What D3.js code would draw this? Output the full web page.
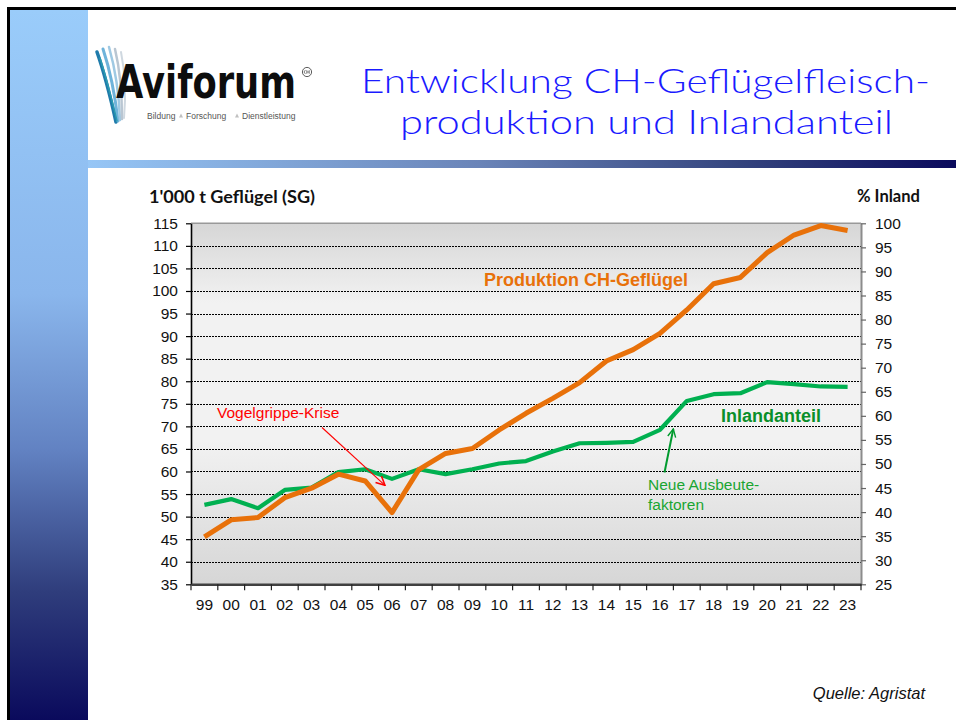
<!DOCTYPE html>
<html>
<head>
<meta charset="utf-8">
<script src="https://cdn.jsdelivr.net/npm/d3@7"></script>
<style>
  body { margin: 0; background: #fff; }
  svg { display: block; }
</style>
</head>
<body>
<div id="chart"></div>
<script>
//categories (years, two digits)
const years = ["99","00","01","02","03","04","05","06","07","08","09","10","11","12","13","14","15","16","17","18","19","20","21","22","23"];
//production, 1'000 t poultry (left axis)
const production = [45.5, 49.3, 49.8, 54.2, 56.3, 59.4, 57.9, 50.9, 60.4, 64.0, 65.1, 69.2, 72.9, 76.2, 79.7, 84.5, 87.0, 90.6, 95.8, 101.6, 103.0, 108.5, 112.4, 114.5, 113.4];
//domestic share in % (right axis)
const inland = [41.5, 42.7, 40.8, 44.6, 45.1, 48.3, 48.9, 46.9, 48.9, 47.9, 48.9, 50.1, 50.6, 52.6, 54.3, 54.4, 54.6, 57.1, 63.1, 64.5, 64.7, 67.0, 66.6, 66.1, 66.0];
//tick values
const leftTicks = d3.range(35, 116, 5);
const rightTicks = d3.range(25, 101, 5);

const width = 956;
const height = 720;
const plot = { left: 191, right: 861, top: 223.3, bottom: 584.3 };

const orange = "#E8710A";
const green = "#00B050";

const svg = d3.select("#chart").append("svg")
    .attr("width", width)
    .attr("height", height);

const defs = svg.append("defs");

//gradients
const side = defs.append("linearGradient").attr("id", "side")
    .attr("x1", 0).attr("y1", 0).attr("x2", 0).attr("y2", 1);
[["0", "#9accfa"], ["0.4", "#8ab6ec"], ["0.62", "#6282c2"], ["0.82", "#2f3d7c"], ["1", "#0a0a5c"]]
    .forEach(([o, c]) => side.append("stop").attr("offset", o).attr("stop-color", c));

const bar = defs.append("linearGradient").attr("id", "bar")
    .attr("x1", 0).attr("y1", 0).attr("x2", 1).attr("y2", 0);
[["0", "#96c6f6"], ["0.45", "#6a84b8"], ["0.75", "#34447e"], ["1", "#0a0a5c"]]
    .forEach(([o, c]) => bar.append("stop").attr("offset", o).attr("stop-color", c));

const plotBg = defs.append("linearGradient").attr("id", "plotbg")
    .attr("x1", 0).attr("y1", 0).attr("x2", 0).attr("y2", 1);
[["0", "#d6d6d6"], ["0.22", "#f2f2f2"], ["0.6", "#f2f2f2"], ["1", "#d6d6d6"]]
    .forEach(([o, c]) => plotBg.append("stop").attr("offset", o).attr("stop-color", c));

//arrow markers
function marker(id, color, size) {
    defs.append("marker")
        .attr("id", id)
        .attr("viewBox", "0 0 10 10")
        .attr("refX", 9).attr("refY", 5)
        .attr("markerWidth", size).attr("markerHeight", size)
        .attr("markerUnits", "userSpaceOnUse")
        .attr("orient", "auto")
        .append("path")
        .attr("d", "M1,1 L9,5 L1,9")
        .attr("fill", "none")
        .attr("stroke", color)
        .attr("stroke-width", 1.4);
}
marker("arrRed", "#ff0000", 11);
marker("arrGreen", "#009a2e", 10);

//slide frame
svg.append("rect").attr("x", 10).attr("y", 10).attr("width", 78).attr("height", height - 10).attr("fill", "url(#side)");
svg.append("rect").attr("x", 88).attr("y", 160).attr("width", width - 88).attr("height", 8).attr("fill", "url(#bar)");
svg.append("path")
    .attr("d", `M8.5,${height} V8.5 H${width}`)
    .attr("fill", "none")
    .attr("stroke", "#000")
    .attr("stroke-width", 3);

//logo
const logo = svg.append("g");
const feathers = [
    ["M97,52 C104,72 110,95 116,122", "#1f7bab", 3.5],
    ["M103,49 C110,70 115,95 118,121", "#6fb3da", 3],
    ["M109,47 C115,68 119,94 120,120", "#9fc9e3", 2.5],
    ["M115,49 C120,70 122,94 122,119", "#b9c6d2", 2.5],
    ["M121,52 C125,72 126,95 124,118", "#cfd8e0", 2],
    ["M100,58 C107,80 112,100 117,121", "#2a9ab0", 1.5]
];
feathers.forEach(([d, c, w]) => {
    logo.append("path").attr("d", d).attr("fill", "none").attr("stroke", c).attr("stroke-width", w).attr("stroke-linecap", "round");
});
logo.append("text")
    .attr("x", 116).attr("y", 98)
    .attr("textLength", 180).attr("lengthAdjust", "spacingAndGlyphs")
    .attr("font-family", "DejaVu Sans, sans-serif")
    .attr("font-weight", "bold")
    .attr("font-size", 47)
    .attr("fill", "#0d0d0d")
    .text("Aviforum");
//"CH" mark drawn as shapes
logo.append("circle").attr("cx", 307).attr("cy", 72).attr("r", 4.6).attr("fill", "none").attr("stroke", "#333").attr("stroke-width", 0.8);
logo.append("path")
    .attr("d", "M305.6,70.4 a1.4,1.6 0 1 0 0,3.2 M306.8,70.2 v3.6 M309.2,70.2 v3.6 M306.8,72 h2.4")
    .attr("fill", "none").attr("stroke", "#333").attr("stroke-width", 0.6);

//subtitle with small triangles between the words
const subFont = { family: "Liberation Sans, Arial, sans-serif", size: 8.5 };
[["Bildung", 147], ["Forschung", 186], ["Dienstleistung", 242]].forEach(([t, xx]) => {
    logo.append("text")
        .attr("x", xx).attr("y", 118.5)
        .attr("font-family", subFont.family)
        .attr("font-size", subFont.size)
        .attr("fill", "#555")
        .text(t);
});
[181, 237].forEach((xx) => {
    logo.append("path")
        .attr("d", `M${xx - 2},117.5 L${xx + 2},117.5 L${xx},113.5 Z`)
        .attr("fill", "#c0c0c0");
});

//title
const title = svg.append("g")
    .attr("font-family", "Lato, Open Sans, sans-serif")
    .attr("font-weight", 300)
    .attr("font-size", 33.5)
    .attr("fill", "#1a1aff");
title.append("text").attr("x", 361).attr("y", 93)
    .attr("textLength", 569).attr("lengthAdjust", "spacingAndGlyphs")
    .text("Entwicklung CH-Geflügelfleisch-");
title.append("text").attr("x", 400).attr("y", 134)
    .attr("textLength", 493).attr("lengthAdjust", "spacingAndGlyphs")
    .text("produktion und Inlandanteil");

//scales
const x = d3.scaleBand().domain(years).range([plot.left, plot.right]).padding(0);
const yL = d3.scaleLinear().domain([35, 115]).range([plot.bottom, plot.top]);
const yR = d3.scaleLinear().domain([25, 100]).range([plot.bottom, plot.top]);
const cx = (i) => x(years[i]) + x.bandwidth() / 2;

//plot background
svg.append("rect")
    .attr("x", plot.left).attr("y", plot.top)
    .attr("width", plot.right - plot.left).attr("height", plot.bottom - plot.top)
    .attr("fill", "url(#plotbg)");

//gridlines (dotted black)
svg.append("g")
    .attr("shape-rendering", "crispEdges")
    .selectAll("line")
    .data(leftTicks.filter((d) => d > 35 && d < 115))
    .join("line")
    .attr("x1", plot.left).attr("x2", plot.right)
    .attr("y1", (d) => Math.round(yL(d)) + 0.5).attr("y2", (d) => Math.round(yL(d)) + 0.5)
    .attr("stroke", "#000")
    .attr("stroke-width", 1)
    .attr("stroke-dasharray", "2,1");
svg.append("line")
    .attr("x1", plot.left).attr("x2", plot.right)
    .attr("y1", plot.top).attr("y2", plot.top)
    .attr("stroke", "#999").attr("stroke-width", 1.5);

//axes
const tickFont = "Liberation Sans, Arial, sans-serif";

const leftAxis = svg.append("g")
    .attr("transform", `translate(${plot.left},0)`)
    .call(d3.axisLeft(yL).tickValues(leftTicks).tickSize(5).tickSizeOuter(0).tickPadding(8));
leftAxis.select(".domain").attr("stroke", "#000").attr("stroke-width", 1.6);
leftAxis.selectAll(".tick line").attr("stroke", "#000").attr("stroke-width", 1.2);
leftAxis.selectAll("text").attr("font-family", tickFont).attr("font-size", 15.5).attr("fill", "#111");

const rightAxis = svg.append("g")
    .attr("transform", `translate(${plot.right},0)`)
    .call(d3.axisRight(yR).tickValues(rightTicks).tickSize(5).tickSizeOuter(0).tickPadding(9));
rightAxis.select(".domain").attr("stroke", "#8c8c8c").attr("stroke-width", 2);
rightAxis.selectAll(".tick line").attr("stroke", "#666").attr("stroke-width", 1.2);
rightAxis.selectAll("text").attr("font-family", tickFont).attr("font-size", 15.5).attr("fill", "#111");

const bottomAxis = svg.append("g")
    .attr("transform", `translate(0,${plot.bottom})`)
    .call(d3.axisBottom(x).tickSize(0).tickPadding(15));
bottomAxis.select(".domain").attr("stroke", "#404040").attr("stroke-width", 2.5);
bottomAxis.selectAll("text").attr("font-family", tickFont).attr("font-size", 15.5).attr("fill", "#111");

//category boundary ticks
svg.append("g")
    .selectAll("line")
    .data(years.concat(["end"]))
    .join("line")
    .attr("x1", (d, i) => plot.left + i * x.bandwidth())
    .attr("x2", (d, i) => plot.left + i * x.bandwidth())
    .attr("y1", plot.bottom)
    .attr("y2", plot.bottom + 6)
    .attr("stroke", "#222")
    .attr("stroke-width", 1.2);

//lines
const lineL = d3.line().x((d, i) => cx(i)).y((d) => yL(d));
const lineR = d3.line().x((d, i) => cx(i)).y((d) => yR(d));

svg.append("path")
    .datum(inland)
    .attr("d", lineR)
    .attr("fill", "none")
    .attr("stroke", green)
    .attr("stroke-width", 4.2)
    .attr("stroke-linejoin", "round");

svg.append("path")
    .datum(production)
    .attr("d", lineL)
    .attr("fill", "none")
    .attr("stroke", orange)
    .attr("stroke-width", 5)
    .attr("stroke-linejoin", "round");

//axis titles
svg.append("text")
    .attr("x", 149).attr("y", 203)
    .attr("textLength", 166).attr("lengthAdjust", "spacingAndGlyphs")
    .attr("font-family", "Lato, Open Sans, sans-serif")
    .attr("font-weight", "bold")
    .attr("font-size", 16.5)
    .attr("fill", "#111")
    .text("1'000 t Geflügel (SG)");
svg.append("text")
    .attr("x", 857).attr("y", 202)
    .attr("textLength", 63).attr("lengthAdjust", "spacingAndGlyphs")
    .attr("font-family", "Lato, Open Sans, sans-serif")
    .attr("font-weight", "bold")
    .attr("font-size", 16.5)
    .attr("fill", "#111")
    .text("% Inland");

//series labels
svg.append("text")
    .attr("x", 484).attr("y", 286)
    .attr("font-family", tickFont).attr("font-weight", "bold").attr("font-size", 18)
    .attr("fill", orange)
    .text("Produktion CH-Geflügel");
svg.append("text")
    .attr("x", 721).attr("y", 421.5)
    .attr("font-family", tickFont).attr("font-weight", "bold").attr("font-size", 18)
    .attr("fill", "#0a8f2a")
    .text("Inlandanteil");

//annotations
svg.append("text")
    .attr("x", 217).attr("y", 418)
    .attr("font-family", tickFont).attr("font-size", 15.5)
    .attr("fill", "#ff0000")
    .text("Vogelgrippe-Krise");
svg.append("line")
    .attr("x1", 322).attr("y1", 427.5).attr("x2", 385).attr("y2", 485.3)
    .attr("stroke", "#ff0000").attr("stroke-width", 1.1)
    .attr("marker-end", "url(#arrRed)");

const note = svg.append("text")
    .attr("font-family", tickFont).attr("font-size", 15.5)
    .attr("fill", "#1aa532");
note.append("tspan").attr("x", 648).attr("y", 490).text("Neue Ausbeute-");
note.append("tspan").attr("x", 648).attr("y", 509.5).text("faktoren");
svg.append("line")
    .attr("x1", 664.5).attr("y1", 472.5).attr("x2", 673.3).attr("y2", 429)
    .attr("stroke", "#009a2e").attr("stroke-width", 2)
    .attr("marker-end", "url(#arrGreen)");

//source
svg.append("text")
    .attr("x", 925).attr("y", 699)
    .attr("text-anchor", "end")
    .attr("font-family", tickFont).attr("font-style", "italic").attr("font-size", 16.5)
    .attr("fill", "#111")
    .text("Quelle: Agristat");
</script>
</body>
</html>
